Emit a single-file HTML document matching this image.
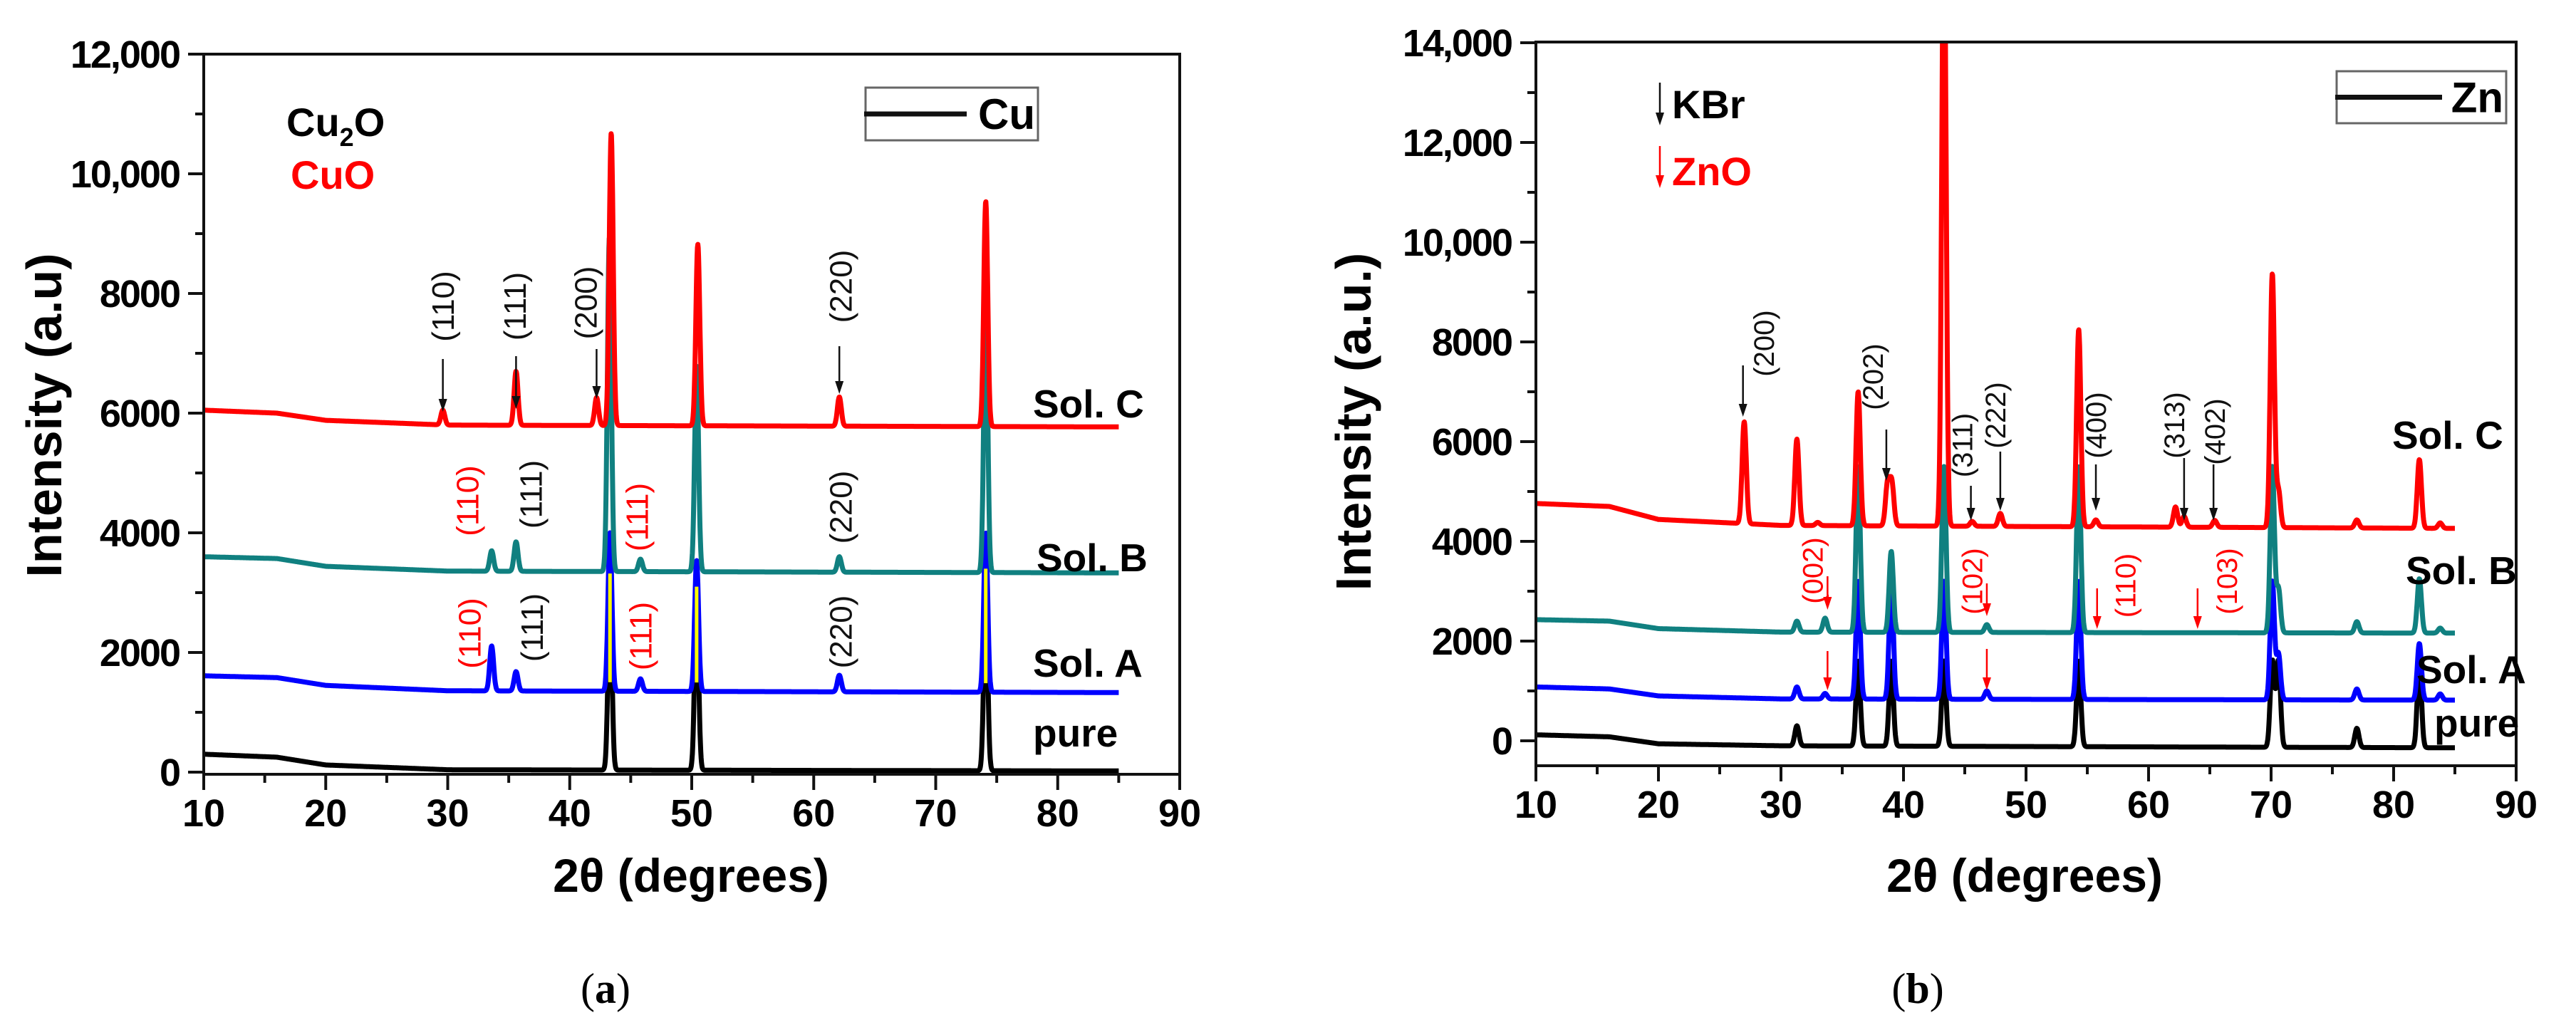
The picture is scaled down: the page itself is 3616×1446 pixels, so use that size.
<!DOCTYPE html>
<html><head><meta charset="utf-8"><style>
html,body{margin:0;padding:0;background:#fff;}
svg{display:block;font-family:"Liberation Sans",Arial,sans-serif;}
</style></head><body>
<svg id="fig" width="3616" height="1446" viewBox="0 0 3616 1446" xmlns="http://www.w3.org/2000/svg"></svg>
<script>
// ---- shared data ----
const baseKnotsX = [10, 16, 20, 30, 85];
// Panel (a) Cu
const aSeriesNames = ['pure', 'sol-a', 'sol-b', 'sol-c'];
const aBasePure = [300, 250, 120, 40, 20];
const aBaseA = [1610, 1580, 1450, 1360, 1330];
const aBaseB = [3600, 3570, 3440, 3360, 3330];
const aBaseC = [6050, 6000, 5880, 5800, 5770];
const aPeakPosPure = [43.3, 50.4, 74.1];
const aPeakTopPure = [3000, 3000, 3000];
const aPeakPosA = [33.6, 35.6, 43.3, 45.8, 50.4, 62.1, 74.1];
const aPeakTopA = [2110, 1680, 4000, 1560, 3540, 1620, 4000];
const aPeakPosY = [43.3, 50.4, 74.1];
const aPeakTopY = [3320, 3100, 3400];
const aPeakPosB = [33.6, 35.6, 43.25, 45.8, 50.4, 62.1, 74.1];
const aPeakTopB = [3700, 3850, 8930, 3560, 6790, 3600, 7940];
const aPeakPosC = [29.6, 35.6, 42.2, 43.4, 50.5, 62.1, 74.1];
const aPeakTopC = [6050, 6700, 6260, 10680, 8820, 6270, 9540];
const aYTicks = [0, 2000, 4000, 6000, 8000, 10000, 12000];
const aYTickLabels = ['0', '2000', '4000', '6000', '8000', '10,000', '12,000'];
// Panel (b) Zn
const bBasePure = [120, 80, -60, -100, -140];
const bBaseA = [1080, 1040, 900, 840, 815];
const bBaseB = [2430, 2400, 2250, 2180, 2160];
const bBaseC = [4760, 4700, 4440, 4320, 4260];
const bPeakPosPure = [31.3, 36.3, 39.0, 43.3, 54.3, 70.1, 70.6, 77.0, 82.1];
const bPeakTopPure = [300, 1600, 1600, 1600, 1600, 1600, 1600, 250, 1600];
const bPeakPosA = [31.3, 33.6, 36.3, 39.0, 43.3, 46.8, 54.3, 70.1, 70.6, 77.0, 82.1, 83.8];
const bPeakTopA = [1080, 950, 3200, 3200, 3200, 1000, 3200, 3200, 1740, 1040, 1950, 940];
const bPeakPosB = [31.3, 33.6, 36.3, 39.0, 43.3, 46.8, 54.3, 70.1, 70.6, 77.0, 82.1, 83.8];
const bPeakTopB = [2400, 2460, 5500, 3800, 5500, 2330, 5500, 5500, 3050, 2390, 3250, 2260];
const bPeakPosC = [27.0, 31.3, 33.0, 36.3, 38.7, 39.05, 43.3, 45.6, 47.9, 54.3, 55.7, 62.2, 62.9, 65.4, 70.1, 70.6, 77.0, 82.1, 83.8];
const bPeakTopC = [6400, 6050, 4380, 7000, 5150, 5150, 17000, 4400, 4560, 8250, 4430, 4690, 4500, 4420, 9360, 5020, 4430, 5640, 4370];
const bYTicks = [0, 2000, 4000, 6000, 8000, 10000, 12000, 14000];
const bYTickLabels = ['0', '2000', '4000', '6000', '8000', '10,000', '12,000', '14,000'];
const xTicks = [10, 20, 30, 40, 50, 60, 70, 80, 90];

const NS = 'http://www.w3.org/2000/svg';
const svg = document.getElementById('fig');
function mk(tag, attrs, parent) {
  const e = document.createElementNS(NS, tag);
  for (const k in attrs) e.setAttribute(k, attrs[k]);
  (parent || svg).appendChild(e);
  return e;
}
function interp(kx, ky, x) {
  if (x <= kx[0]) return ky[0];
  for (let i = 1; i < kx.length; i++) {
    if (x <= kx[i]) { const t = (x - kx[i-1]) / (kx[i] - kx[i-1]); return ky[i-1] + t * (ky[i] - ky[i-1]); }
  }
  return ky[ky.length - 1];
}

function makePanel(cfg) {
  const X = v => cfg.left + (v - 10) / 80 * (cfg.right - cfg.left);
  const Y = v => cfg.zeroY - v * cfg.pxPer1000 / 1000;
  const g = mk('g', {});
  
  
  const cid = cfg.name + '-clip';
  const defs = mk('defs', {}, g);
  const cp = mk('clipPath', {id: cid}, defs);
  mk('rect', {x: cfg.left, y: cfg.top, width: cfg.right - cfg.left, height: cfg.bottom - cfg.top}, cp);
  const plot = mk('g', {'clip-path': 'url(#' + cid + ')'}, g);

  function drawSeries(name, base, pos, tops, color, sigma, sw) {
    let d = '';
    for (let x = 10; x <= 85.0001; x += 0.03) {
      let y = interp(baseKnotsX, base, x);
      for (let i = 0; i < pos.length; i++) {
        const h = tops[i] - interp(baseKnotsX, base, pos[i]);
        const dx = x - pos[i];
        y += h * Math.exp(-dx * dx / (2 * sigma * sigma));
      }
      d += (d ? 'L' : 'M') + X(x).toFixed(1) + ' ' + Y(y).toFixed(1);
    }
    const p = mk('path', {d: d, fill: 'none', stroke: color, 'stroke-width': sw, 'stroke-linejoin': 'round'}, plot);
    
    
  }
  cfg.series.forEach(s => drawSeries(s.name, s.base, s.pos, s.tops, s.color, s.sigma, s.sw));
  if (cfg.yellow) {
    cfg.yellow.pos.forEach((p, i) => {
      const l = mk('line', {x1: X(p), x2: X(p), y1: Y(interp(baseKnotsX, cfg.yellow.base, p) + 150), y2: Y(cfg.yellow.tops[i]), stroke: '#ffff00', 'stroke-width': 5}, plot);
      
      
    });
  }
  const fr = mk('rect', {x: cfg.left, y: cfg.top, width: cfg.right - cfg.left, height: cfg.bottom - cfg.top, fill: 'none', stroke: '#111', 'stroke-width': 4}, g);
  
  
  for (let v = 10; v <= 90; v += 5) {
    const major = v % 10 === 0;
    mk('line', {x1: X(v), x2: X(v), y1: cfg.bottom, y2: cfg.bottom + (major ? 22 : 12), stroke: '#111', 'stroke-width': 4}, g);
  }
  xTicks.forEach(v => {
    const t = mk('text', {x: X(v), y: cfg.bottom + 73, 'text-anchor': 'middle', 'font-size': 54, 'font-weight': 'bold'}, g);
    t.textContent = v;
    
    
  });
  for (let v = 0; v <= cfg.ymax; v += 1000) {
    const major = v % 2000 === 0;
    mk('line', {x1: cfg.left, x2: cfg.left - (major ? 22 : 12), y1: Y(v), y2: Y(v), stroke: '#111', 'stroke-width': 4}, g);
  }
  cfg.yTicks.forEach((v, i) => {
    const t = mk('text', {x: cfg.left - 34, y: Y(v) + 19, 'text-anchor': 'end', 'font-size': 54, 'font-weight': 'bold', 'letter-spacing': -2}, g);
    t.textContent = cfg.yLabels[i];
    
    
  });
  const xt = mk('text', {x: cfg.xTitleX, y: 1252, 'text-anchor': 'middle', 'font-size': 66, 'font-weight': 'bold'}, g);
  xt.textContent = '2\u03B8 (degrees)';
  
  
  const yt = mk('text', {x: 0, y: 0, 'text-anchor': 'middle', 'font-size': 70, 'font-weight': 'bold', transform: 'translate(' + cfg.yTitleX + ',' + cfg.yTitleY + ') rotate(-90)'}, g);
  yt.textContent = cfg.yTitle;
  
  
  const lg = mk('g', {}, g);
  
  
  const L = cfg.legend;
  mk('rect', {x: L.x, y: L.y, width: L.w, height: L.h, fill: '#fff', stroke: '#666', 'stroke-width': 3}, lg);
  mk('line', {x1: L.x - 2, x2: L.lineEnd, y1: L.y + L.h / 2, y2: L.y + L.h / 2, stroke: '#111', 'stroke-width': 7}, lg);
  const lt = mk('text', {x: L.x + L.w - 4, y: L.y + L.h / 2 + 21, 'text-anchor': 'end', 'font-size': 60, 'font-weight': 'bold'}, lg);
  lt.textContent = L.label;
  cfg.sampleLabels.forEach(s => {
    const t = mk('text', {x: s.x, y: s.y + 20, 'font-size': 55, 'font-weight': 'bold'}, g);
    t.textContent = s.t;
    
    
  });
  cfg.hkl.forEach(h => {
    const t = mk('text', {x: 0, y: 0, 'text-anchor': 'middle', 'font-size': cfg.hklSize, fill: h.c || '#111', transform: 'translate(' + (X(h.x) + cfg.hklSize * 0.35) + ',' + h.yc + ') rotate(-90)'}, g);
    t.textContent = h.t;
    
    
  });
  cfg.arrows.forEach(a => {
    const ag = mk('g', {}, g);
    
    
    const col = a.c || '#111';
    mk('line', {x1: X(a.x), x2: X(a.x), y1: a.y1, y2: a.y2 - 14, stroke: col, 'stroke-width': 2.5}, ag);
    mk('polygon', {points: (X(a.x) - 6) + ',' + (a.y2 - 18) + ' ' + (X(a.x) + 6) + ',' + (a.y2 - 18) + ' ' + X(a.x) + ',' + a.y2, fill: col}, ag);
  });
  return {X: X, Y: Y, g: g};
}

const pa = makePanel({
  name: 'panel-a-cu', left: 286, right: 1656, top: 76, bottom: 1087, zeroY: 1084, pxPer1000: 84.0, ymax: 12000,
  yTicks: aYTicks, yLabels: aYTickLabels, yTitle: 'Intensity (a.u)', yTitleX: 86, yTitleY: 583, xTitleX: 970,
  series: [
    {name: 'series-pure', base: aBasePure, pos: aPeakPosPure, tops: aPeakTopPure, color: '#000', sigma: 0.16, sw: 7},
    {name: 'series-sol-a', base: aBaseA, pos: aPeakPosA, tops: aPeakTopA, color: '#0000ff', sigma: 0.16, sw: 7},
    {name: 'series-sol-b', base: aBaseB, pos: aPeakPosB, tops: aPeakTopB, color: '#108080', sigma: 0.16, sw: 7},
    {name: 'series-sol-c', base: aBaseC, pos: aPeakPosC, tops: aPeakTopC, color: '#ff0000', sigma: 0.16, sw: 7}
  ],
  yellow: {base: aBaseA, pos: aPeakPosY, tops: aPeakTopY},
  legend: {x: 1215, y: 123, w: 242, h: 74, lineEnd: 1357, label: 'Cu'},
  sampleLabels: [{t: 'Sol. C', x: 1450, y: 566}, {t: 'Sol. B', x: 1455, y: 782}, {t: 'Sol. A', x: 1450, y: 930}, {t: 'pure', x: 1450, y: 1028}],
  hklSize: 44,
  hkl: [
    {t: '(110)', x: 29.6, yc: 430}, {t: '(111)', x: 35.5, yc: 430}, {t: '(200)', x: 41.3, yc: 425}, {t: '(220)', x: 62.2, yc: 402},
    {t: '(110)', x: 31.6, yc: 703, c: '#ff0000'}, {t: '(111)', x: 36.8, yc: 694}, {t: '(111)', x: 45.5, yc: 726, c: '#ff0000'}, {t: '(220)', x: 62.2, yc: 712},
    {t: '(110)', x: 31.8, yc: 889, c: '#ff0000'}, {t: '(111)', x: 36.9, yc: 881}, {t: '(111)', x: 45.8, yc: 893, c: '#ff0000'}, {t: '(220)', x: 62.2, yc: 887}
  ],
  arrows: [{x: 29.6, y1: 504, y2: 578}, {x: 35.6, y1: 500, y2: 574}, {x: 42.2, y1: 490, y2: 560}, {x: 62.1, y1: 486, y2: 553}]
});

const pb = makePanel({
  name: 'panel-b-zn', left: 2156, right: 3532, top: 59, bottom: 1075, zeroY: 1040, pxPer1000: 70.0, ymax: 14000,
  yTicks: bYTicks, yLabels: bYTickLabels, yTitle: 'Intensity (a.u.)', yTitleX: 1924, yTitleY: 592, xTitleX: 2842,
  series: [
    {name: 'series-pure', base: bBasePure, pos: bPeakPosPure, tops: bPeakTopPure, color: '#000', sigma: 0.17, sw: 7},
    {name: 'series-sol-a', base: bBaseA, pos: bPeakPosA, tops: bPeakTopA, color: '#0000ff', sigma: 0.17, sw: 7},
    {name: 'series-sol-b', base: bBaseB, pos: bPeakPosB, tops: bPeakTopB, color: '#108080', sigma: 0.17, sw: 7},
    {name: 'series-sol-c', base: bBaseC, pos: bPeakPosC, tops: bPeakTopC, color: '#ff0000', sigma: 0.17, sw: 7}
  ],
  legend: {x: 3280, y: 100, w: 238, h: 73, lineEnd: 3428, label: 'Zn'},
  sampleLabels: [{t: 'Sol. C', x: 3358, y: 610}, {t: 'Sol. B', x: 3377, y: 800}, {t: 'Sol. A', x: 3392, y: 939}, {t: 'pure', x: 3417, y: 1014}],
  hklSize: 40,
  hkl: [
    {t: '(200)', x: 28.6, yc: 482}, {t: '(202)', x: 37.5, yc: 529}, {t: '(311)', x: 44.8, yc: 625}, {t: '(222)', x: 47.5, yc: 583},
    {t: '(400)', x: 55.7, yc: 597}, {t: '(313)', x: 62.1, yc: 597}, {t: '(402)', x: 65.4, yc: 606},
    {t: '(002)', x: 32.6, yc: 801, c: '#ff0000'}, {t: '(102)', x: 45.6, yc: 816, c: '#ff0000'}, {t: '(110)', x: 58.1, yc: 822, c: '#ff0000'}, {t: '(103)', x: 66.4, yc: 816, c: '#ff0000'}
  ],
  arrows: [
    {x: 26.9, y1: 513, y2: 585}, {x: 38.6, y1: 603, y2: 675}, {x: 45.5, y1: 682, y2: 731}, {x: 47.9, y1: 634, y2: 717},
    {x: 55.7, y1: 652, y2: 717}, {x: 62.9, y1: 643, y2: 731}, {x: 65.3, y1: 652, y2: 731},
    {x: 33.8, y1: 809, y2: 856, c: '#ff0000'}, {x: 46.8, y1: 819, y2: 865, c: '#ff0000'}, {x: 55.8, y1: 826, y2: 883, c: '#ff0000'}, {x: 64.0, y1: 826, y2: 883, c: '#ff0000'},
    {x: 33.8, y1: 914, y2: 969, c: '#ff0000'}, {x: 46.8, y1: 911, y2: 969, c: '#ff0000'}
  ]
});

let t = mk('text', {x: 402, y: 191, 'font-size': 56, 'font-weight': 'bold'});


t.innerHTML = 'Cu<tspan font-size="36" dy="14">2</tspan><tspan dy="-14">O</tspan>';
t = mk('text', {x: 408, y: 265, 'font-size': 56, 'font-weight': 'bold', fill: '#ff0000'});


t.textContent = 'CuO';
function keyArrow(x, y1, y2, c) {
  const g = mk('g', {});
  
  
  mk('line', {x1: x, x2: x, y1: y1, y2: y2 - 14, stroke: c, 'stroke-width': 2.5}, g);
  mk('polygon', {points: (x - 6) + ',' + (y2 - 18) + ' ' + (x + 6) + ',' + (y2 - 18) + ' ' + x + ',' + y2, fill: c}, g);
}
keyArrow(2330, 116, 176, '#111');
keyArrow(2330, 205, 264, '#ff0000');
t = mk('text', {x: 2347, y: 166, 'font-size': 56, 'font-weight': 'bold'});


t.textContent = 'KBr';
t = mk('text', {x: 2347, y: 260, 'font-size': 56, 'font-weight': 'bold', fill: '#ff0000'});


t.textContent = 'ZnO';
t = mk('text', {x: 850, y: 1408, 'text-anchor': 'middle', 'font-size': 60, 'font-family': '"Liberation Serif", serif'});


t.innerHTML = '(<tspan font-weight="bold">a</tspan>)';
t = mk('text', {x: 2692, y: 1408, 'text-anchor': 'middle', 'font-size': 60, 'font-family': '"Liberation Serif", serif'});


t.innerHTML = '(<tspan font-weight="bold">b</tspan>)';
</script>
</body></html>
